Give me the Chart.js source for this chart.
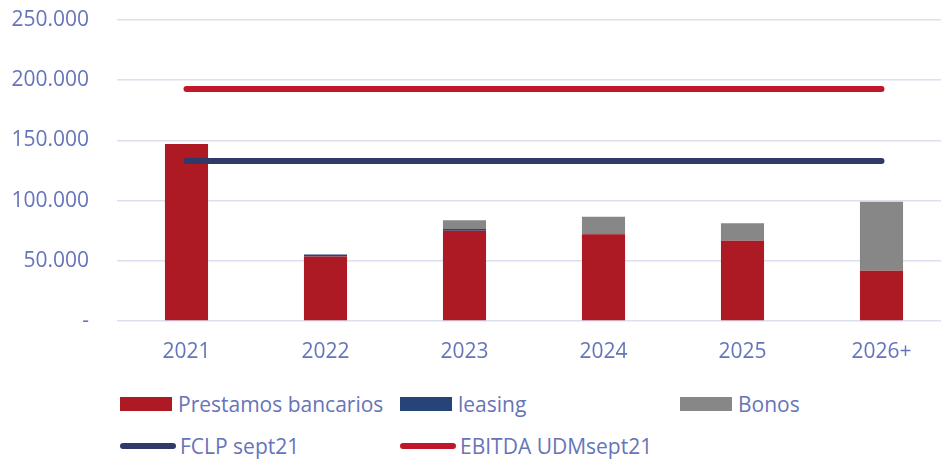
<!DOCTYPE html>
<html>
<head>
<meta charset="utf-8">
<script src="https://cdn.jsdelivr.net/npm/chart.js@4/dist/chart.umd.min.js"></script>
<style>
  html, body { margin: 0; padding: 0; background: #ffffff; overflow: hidden; }
  #wrap { position: relative; width: 941px; height: 460px; overflow: hidden; }
  #cv { position: absolute; left: 0; top: 0; }
  #legend { position: absolute; left: 120px; top: 390px; width: 840px; font-family: "Open Sans", sans-serif; font-size: 21px; color: #6674B9; }
  .item { position: absolute; display: flex; align-items: center; height: 28px; white-space: nowrap; }
  .box { width: 52px; height: 14px; margin-right: 6px; }
  .ln { width: 56px; height: 6px; border-radius: 3px; margin-right: 4px; }
</style>
</head>
<body>
<div id="wrap">
  <canvas id="cv" width="951" height="380" style="width:951px;height:380px;"></canvas>
  <div id="legend"></div>
</div>
<script>
const categories = ['2021', '2022', '2023', '2024', '2025', '2026+'];
const prestamosBancarios = [147000, 53500, 75000, 72000, 66700, 41800];
const leasing = [0, 1800, 1400, 600, 0, 0];
const bonos = [0, 0, 7200, 14000, 14500, 57300];
const fclpSept21 = [132900, 132900, 132900, 132900, 132900, 132900];
const ebitdaUdmSept21 = [192700, 192700, 192700, 192700, 192700, 192700];
const yTickValues = [0, 50000, 100000, 150000, 200000, 250000];
const yTickLabels = ['-', '50.000', '100.000', '150.000', '200.000', '250.000'];

const textColor = '#6674B9';
const fontFamily = '"Open Sans", sans-serif';

const datasets = [
  { type: 'bar', label: 'Prestamos bancarios', data: prestamosBancarios, backgroundColor: '#AD1A24', stack: 's', yAxisID: 'y', order: 2 },
  { type: 'bar', label: 'leasing', data: leasing, backgroundColor: '#264478', stack: 's', yAxisID: 'y', order: 2 },
  { type: 'bar', label: 'Bonos', data: bonos, backgroundColor: '#878787', stack: 's', yAxisID: 'y', order: 2 },
  { type: 'line', label: 'FCLP sept21', data: fclpSept21, borderColor: '#2F3A6B', borderWidth: 6, borderCapStyle: 'round', pointRadius: 0, yAxisID: 'y2', order: 1 },
  { type: 'line', label: 'EBITDA UDMsept21', data: ebitdaUdmSept21, borderColor: '#C0182A', borderWidth: 6, borderCapStyle: 'round', pointRadius: 0, yAxisID: 'y2', order: 0 }
];

new Chart(document.getElementById('cv'), {
  data: { labels: categories, datasets: datasets },
  options: {
    responsive: false,
    animation: false,
    devicePixelRatio: 1,
    layout: { padding: { top: 20, right: 0, bottom: 0, left: 0 } },
    plugins: { legend: { display: false }, tooltip: { enabled: false } },
    datasets: { bar: { barPercentage: 0.31, categoryPercentage: 1 } },
    scales: {
      x: {
        stacked: true,
        grid: { display: false, drawTicks: false },
        border: { display: false },
        ticks: { color: textColor, font: { family: fontFamily, size: 21 }, padding: 18 },
        afterFit: (s) => { s.height = 59; s.paddingLeft = 0; s.paddingRight = 0; }
      },
      y: {
        stacked: true,
        min: 0, max: 250000,
        afterBuildTicks: (s) => { s.ticks = yTickValues.map(v => ({ value: v })); },
        grid: { color: '#DCDFF0', lineWidth: 1.5, drawTicks: false },
        border: { display: false },
        ticks: { color: textColor, font: { family: fontFamily, size: 21 }, padding: 28,
          callback: (v) => yTickLabels[yTickValues.indexOf(v)] },
        afterFit: (s) => { s.width = 117; s.paddingTop = 0; s.paddingBottom = 0; }
      },
      y2: { display: false, min: 0, max: 250000 }
    }
  }
});

// HTML legend built from datasets
const legendPos = [[0, 0], [280, 0], [560, 0], [0, 42], [280, 42]];
const lg = document.getElementById('legend');
datasets.forEach((d, i) => {
  const it = document.createElement('div');
  it.className = 'item';
  it.style.left = legendPos[i][0] + 'px';
  it.style.top = legendPos[i][1] + 'px';
  const sw = document.createElement('span');
  sw.className = d.type === 'bar' ? 'box' : 'ln';
  sw.style.background = d.type === 'bar' ? d.backgroundColor : d.borderColor;
  const tx = document.createElement('span');
  tx.textContent = d.label;
  it.appendChild(sw); it.appendChild(tx);
  lg.appendChild(it);
});
</script>
</body>
</html>
